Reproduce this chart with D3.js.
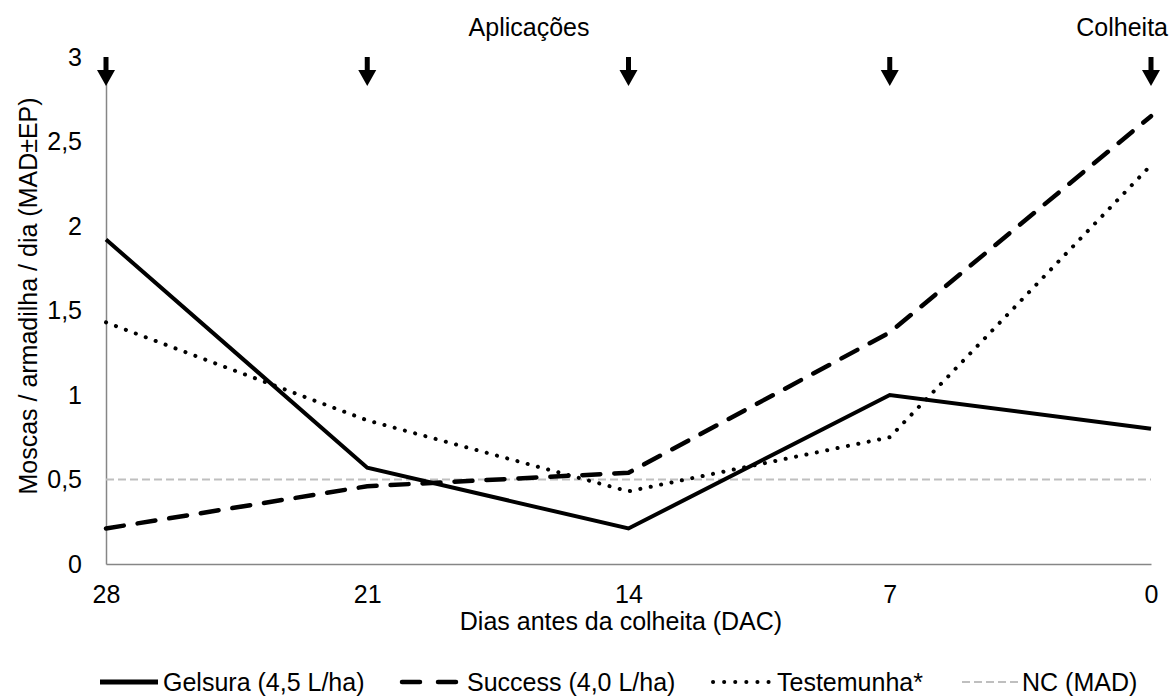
<!DOCTYPE html>
<html><head><meta charset="utf-8">
<script src="https://cdn.jsdelivr.net/npm/d3@7"></script>
<style>body{margin:0;background:#fff}svg text{font-family:"Liberation Sans",Arial,sans-serif;fill:#000}</style>
</head><body><svg id="c" width="1172" height="697"></svg>
<script>
const days = ["28","21","14","7","0"];
const gelsura = [1.92, 0.57, 0.21, 1.00, 0.80];
const success = [0.21, 0.46, 0.54, 1.37, 2.65];
const testemunha = [1.43, 0.85, 0.43, 0.75, 2.36];
const nc = [0.5, 0.5, 0.5, 0.5, 0.5];
const yTicks = [0, 0.5, 1, 1.5, 2, 2.5, 3];
const arrowDays = ["28","21","14","7","0"];
const seriesNames = ["Gelsura (4,5 L/ha)", "Success (4,0 L/ha)", "Testemunha*", "NC (MAD)"];

const FS = 25;
const svg = d3.select("#c");
const x = d3.scalePoint().domain(days).range([106, 1151]);
const y = d3.scaleLinear().domain([0, 3]).range([564, 57]);
const fmt = d => String(d).replace(".", ",");

const yAxis = svg.append("g").attr("transform","translate(106,0)")
  .call(d3.axisLeft(y).tickValues(yTicks).tickFormat(fmt).tickSize(0).tickPadding(24));
yAxis.select(".domain").attr("stroke","#868686").attr("stroke-width",1.5);
yAxis.selectAll("text").attr("font-size",FS).style("font-family","Liberation Sans, Arial");

const xAxis = svg.append("g").attr("transform","translate(0,564)")
  .call(d3.axisBottom(x).tickSize(0).tickPadding(21));
xAxis.select(".domain").attr("stroke","#868686").attr("stroke-width",1.5);
xAxis.selectAll("text").attr("font-size",FS).style("font-family","Liberation Sans, Arial");

const line = d3.line().x((d,i)=>x(days[i])).y(d=>y(d));
const styles = [
  {data: gelsura, color:"#000", w:4, dash:null, cap:"butt"},
  {data: success, color:"#000", w:4.5, dash:"18 14", cap:"round"},
  {data: testemunha, color:"#000", w:4, dash:"0.1 10.5", cap:"round"},
  {data: nc, color:"#bfbfbf", w:2, dash:"8 4", cap:"butt"}
];
[3,0,1,2].forEach(k=>{
  const s = styles[k];
  svg.append("path").datum(s.data).attr("d", line).attr("fill","none")
    .attr("stroke", s.color).attr("stroke-width", s.w)
    .attr("stroke-linecap", s.cap).attr("stroke-linejoin","miter")
    .attr("stroke-dasharray", s.dash);
});

arrowDays.forEach(dd=>{
  const cx = x(dd);
  const g = svg.append("g");
  g.append("rect").attr("x",cx-2.5).attr("y",57).attr("width",5).attr("height",14).attr("fill","#000");
  g.append("path").attr("d",`M${cx-9},70 L${cx+9},70 L${cx},86 Z`).attr("fill","#000");
});

svg.append("text").attr("x",529).attr("y",36).attr("text-anchor","middle").attr("font-size",FS).text("Aplicações");
svg.append("text").attr("x",1168).attr("y",36).attr("text-anchor","end").attr("font-size",FS).text("Colheita");

svg.append("text").attr("x",621).attr("y",630).attr("text-anchor","middle").attr("font-size",FS).text("Dias antes da colheita (DAC)");
svg.append("text").attr("transform","translate(37,296) rotate(-90)").attr("text-anchor","middle").attr("font-size",FS).text("Moscas / armadilha / dia (MAD±EP)");

const legX = [100, 402, 713, 962];
const legTextX = [163, 467, 777, 1022];
const legY = 682;
seriesNames.forEach((n,k)=>{
  const s = styles[k];
  svg.append("line").attr("x1",legX[k]).attr("x2",legX[k]+ (k===2?56:58)).attr("y1",legY).attr("y2",legY)
    .attr("stroke",s.color).attr("stroke-width",k===0?5:s.w).attr("stroke-linecap",s.cap)
    .attr("stroke-dasharray", k===1 ? "18 18" : (k===2 ? "0.1 11" : s.dash));
  svg.append("text").attr("x",legTextX[k]).attr("y",legY+9).attr("font-size",FS).text(n);
});
</script></body></html>
